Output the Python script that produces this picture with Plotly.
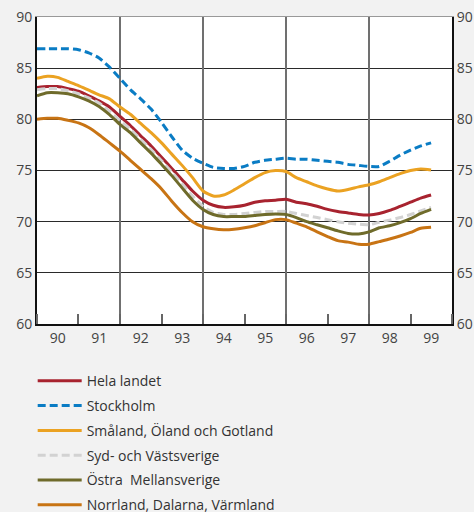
import pandas as pd
import plotly.graph_objects as go

# Quarterly observations, 1990 Q1 .. 1999 Q3
dates = pd.date_range("1990-01-01", periods=39, freq="QS")

hela_landet = [83.1, 83.2, 83.2, 83.0, 82.75, 82.3, 81.8, 81.2, 80.3, 79.4, 78.4, 77.4, 76.3, 75.2, 74.1, 73.0,
               72.1, 71.6, 71.4, 71.45, 71.6, 71.9, 72.05, 72.1, 72.2, 71.9, 71.75, 71.5, 71.2, 71.0, 70.85, 70.7,
               70.65, 70.8, 71.1, 71.5, 71.9, 72.3, 72.6]
stockholm = [86.9, 86.9, 86.9, 86.9, 86.8, 86.5, 86.0, 85.1, 84.0, 82.9, 82.0, 81.0, 79.7, 78.3, 77.0, 76.2,
             75.7, 75.3, 75.2, 75.2, 75.4, 75.8, 76.0, 76.1, 76.2, 76.1, 76.1, 76.0, 75.9, 75.8, 75.6, 75.5,
             75.4, 75.4, 75.9, 76.5, 77.0, 77.4, 77.7]
smaland = [84.0, 84.2, 84.1, 83.7, 83.3, 82.85, 82.4, 82.0, 81.2, 80.5, 79.6, 78.7, 77.7, 76.6, 75.5, 74.3,
           73.0, 72.5, 72.6, 73.1, 73.7, 74.3, 74.8, 75.0, 74.9, 74.3, 73.9, 73.5, 73.2, 73.0, 73.15, 73.4,
           73.6, 73.9, 74.3, 74.7, 75.0, 75.15, 75.05]
syd_vast = [82.9, 83.0, 83.0, 82.8, 82.5, 82.1, 81.6, 80.8, 79.9, 79.05, 78.05, 77.05, 75.95, 74.85, 73.7, 72.5,
            71.5, 70.9, 70.7, 70.7, 70.8, 70.9, 71.0, 71.0, 71.0, 70.8, 70.6, 70.4, 70.2, 70.0, 69.85, 69.75,
            69.7, 69.95, 70.15, 70.4, 70.7, 71.05, 71.4]
ostra = [82.3, 82.6, 82.6, 82.5, 82.2, 81.8, 81.25, 80.45, 79.5, 78.7, 77.7, 76.7, 75.6, 74.5, 73.3, 72.1,
         71.2, 70.7, 70.5, 70.5, 70.5, 70.6, 70.7, 70.75, 70.7, 70.4, 70.0, 69.7, 69.4, 69.1, 68.85, 68.8,
         69.0, 69.4, 69.6, 69.9, 70.3, 70.8, 71.2]
norrland = [80.0, 80.1, 80.1, 79.9, 79.65, 79.2, 78.5, 77.7, 76.9, 76.0, 75.1, 74.2, 73.2, 72.0, 70.9, 70.0,
            69.5, 69.3, 69.2, 69.25, 69.4, 69.6, 69.9, 70.2, 70.2, 69.85, 69.5, 69.0, 68.55, 68.15, 68.0, 67.8,
            67.8, 68.05, 68.3, 68.6, 68.95, 69.35, 69.45]

series = [
    ("Hela landet", hela_landet, "#A8232F", "solid"),
    ("Stockholm", stockholm, "#0A7CC4", "8px,4px"),
    ("Småland, Öland och Gotland", smaland, "#EBA222", "solid"),
    ("Syd- och Västsverige", syd_vast, "#D2D2D2", "8px,4px"),
    ("Östra  Mellansverige", ostra, "#6F6B2B", "solid"),
    ("Norrland, Dalarna, Värmland", norrland, "#C87414", "solid"),
]

y_ticks = [60, 65, 70, 75, 80, 85, 90]
FONT = "Open Sans"

fig = go.Figure()
for i, (name, vals, color, dash) in enumerate(series):
    fig.add_trace(go.Scatter(
        x=dates, y=vals, name=name, mode="lines", legendgroup=f"g{i}",
        line=dict(color=color, width=3, dash=dash, shape="spline", smoothing=0.6),
    ))

# helper trace so the secondary axes (top border, even-year grid, right labels) are drawn
fig.add_trace(go.Scatter(x=[], y=[], xaxis="x2", yaxis="y2", showlegend=False, hoverinfo="skip"))

xr = ["1990-01-01", "2000-01-01"]
fig.update_layout(
    width=474, height=512,
    paper_bgcolor="#F2F2F2", plot_bgcolor="#FFFFFF",
    margin=dict(l=37, r=22, t=17, b=188),
    font=dict(family=FONT, size=14, color="#444"),
    xaxis=dict(
        type="date", range=xr, dtick="M12", tick0="1990-01-01", tickformat="%y",
        ticklabelmode="period", ticks="inside", ticklen=10, tickwidth=1.5, tickcolor="#666",
        showgrid=False, showline=True, linecolor="#111", linewidth=2, zeroline=False,
        tickfont=dict(size=14, color="#444"), automargin=False,
    ),
    xaxis2=dict(
        type="date", range=xr, overlaying="x", side="top", dtick="M24", tick0="1990-01-01",
        showgrid=True, gridcolor="#707070", gridwidth=2, showticklabels=False, ticks="",
        showline=True, linecolor="#999", linewidth=1, zeroline=False, automargin=False,
    ),
    yaxis=dict(
        range=[60, 90], tickvals=y_ticks, showgrid=True, gridcolor="#2a2a2a", gridwidth=1,
        showline=True, linecolor="#111", linewidth=2, zeroline=False, ticks="",
        tickfont=dict(size=14, color="#444"), automargin=False,
    ),
    yaxis2=dict(
        range=[60, 90], tickvals=y_ticks, overlaying="y", side="right", showgrid=False,
        showline=True, linecolor="#111", linewidth=2, zeroline=False, ticks="",
        tickfont=dict(size=14, color="#444"), automargin=False,
    ),
    legend=dict(
        orientation="v", x=-0.0104, xanchor="left",
        yref="container", y=0.2867, yanchor="top",
        bgcolor="rgba(0,0,0,0)", font=dict(family=FONT, size=14, color="#333"),
        tracegroupgap=3.6, traceorder="grouped", itemwidth=44,
    ),
    showlegend=True,
)

# the page holds only the chart: no default body margin around it
fig.write_html(
    "out.html",
    config={"displayModeBar": False},
    post_script="document.body.style.margin='0';document.body.style.overflow='hidden';",
)
